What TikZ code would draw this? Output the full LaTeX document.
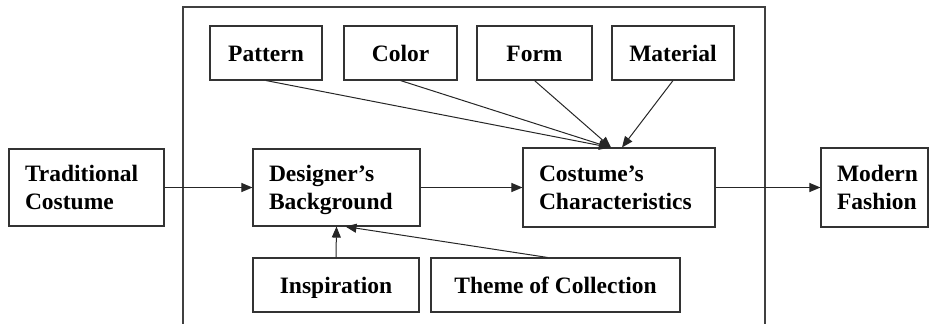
\documentclass[tikz,border=0pt]{standalone}
\usepackage{fontspec}
\setmainfont{Liberation Serif}
\usepackage{tikz}
\usetikzlibrary{arrows.meta}
\tikzset{
  box/.style = {draw=black!80, line width=1.1pt, rectangle, inner sep=0pt,
    font=\fontsize{23.5}{28}\selectfont\bfseries, minimum height=54pt,
    text height=16pt, text depth=0pt},% one line, centred
  twobox/.style = {box, align=left, inner xsep=16pt, minimum height=77pt,
    text height=, text depth=},% two lines, left
  link/.style = {draw=black!85, line width=1pt, -{Triangle[length=11pt,width=9pt]}},
  frame/.style = {draw=black!75, line width=1.3pt}
}
\begin{document}
\begin{tikzpicture}[x=1pt,y=-1pt]
  \useasboundingbox (0,0) rectangle (935,324);
  % outer frame, open at the bottom
  \draw [frame] (183,330) -- (183,7) -- (765,7) -- (765,330);
  % top row
  \node [box, minimum width=112pt] (pattern)  at (266,53)   {Pattern};
  \node [box, minimum width=113pt] (color)    at (400.5,53) {Color};
  \node [box, minimum width=115pt] (form)     at (534.5,53) {Form};
  \node [box, minimum width=122pt] (material) at (673,53)   {Material};
  % middle row
  \node [twobox, text width=123pt] (trad)   at (86.5,187.5) {Traditional\\Costume};
  \node [twobox, text width=135pt] (design) at (336.5,187.5) {Designer’s\\\smash{Background}};
  \node [twobox, text width=160pt, minimum height=79pt] (charac) at (619,187.5) {Costume’s\\Characteristics};
  \node [twobox, text width=75pt, minimum height=79pt] (modern) at (874.5,187.5) {Modern\\Fashion};
  % bottom row
  \node [box, minimum width=166pt] (inspir) at (336,285)   {Inspiration};
  \node [box, minimum width=249pt] (theme)  at (555.5,285) {Theme of Collection};
  % connectors
  \draw [link] (trad.east) -- (design.west);
  \draw [link] (design.east) -- (charac.west);
  \draw [link] (charac.east) -- (modern.west);
  \draw [link] (pattern.south) -- ([xshift=-9pt]charac.north);
  \draw [link] (color.south) -- ([xshift=-9pt]charac.north);
  \draw [link] (form.south) -- ([xshift=-8pt]charac.north);
  \draw [link] (material.south) -- ([xshift=3pt]charac.north);
  \draw [link] (inspir.north) -- (design.south);
  \draw [link] ([xshift=-8pt]theme.north) -- ([xshift=9pt]design.south);
\end{tikzpicture}
\end{document}
